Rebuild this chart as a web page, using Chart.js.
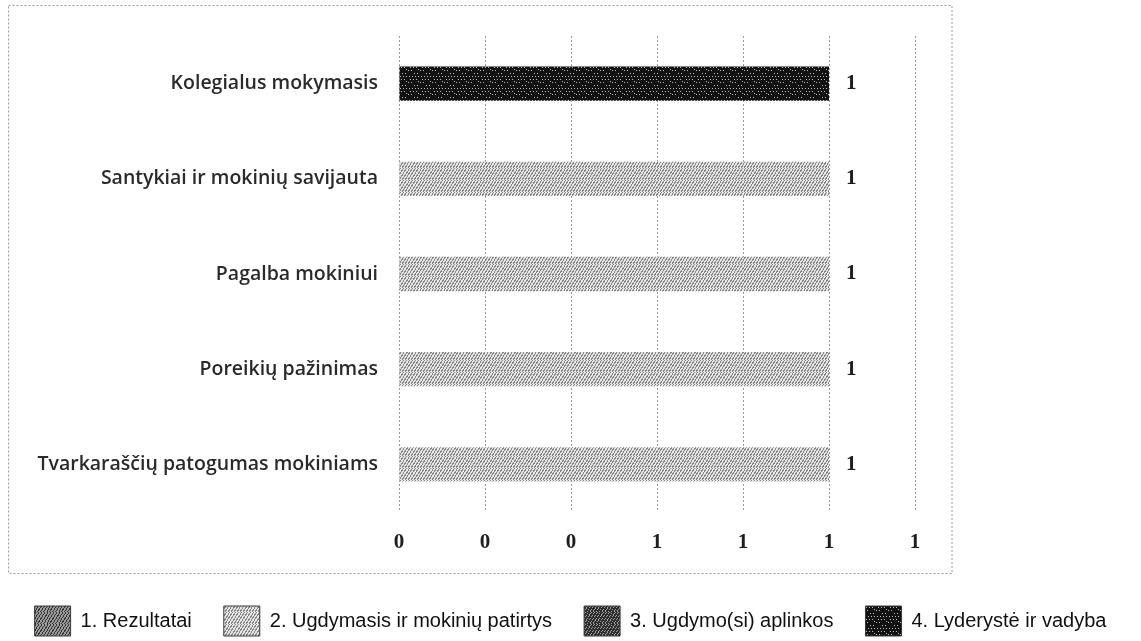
<!DOCTYPE html>
<html>
<head>
<meta charset="utf-8">
<script src="https://cdn.jsdelivr.net/npm/chart.js@4.4.1/dist/chart.umd.min.js"></script>
<style>
  html, body { margin: 0; padding: 0; background: #fff; }
  #wrap { width: 1141px; height: 641px; position: relative; }
</style>
</head>
<body>
<div id="wrap"><canvas id="c" width="1141" height="641"></canvas></div>
<script>
// ---- data ----
const categories = [
  "Kolegialus mokymasis",
  "Santykiai ir mokinių savijauta",
  "Pagalba mokiniui",
  "Poreikių pažinimas",
  "Tvarkaraščių patogumas mokiniams"
];
const seriesNames = [
  "1. Rezultatai",
  "2. Ugdymasis ir mokinių patirtys",
  "3. Ugdymo(si) aplinkos",
  "4. Lyderystė ir vadyba"
];
const rezultatai = [null, null, null, null, null];
const ugdymasis = [null, 1, 1, 1, 1];
const aplinkos = [null, null, null, null, null];
const lyderyste = [1, null, null, null, null];
const xTicks = [0, 0.2, 0.4, 0.6, 0.8, 1, 1.2];

// ---- deterministic stipple patterns ----
function makePattern(base, dot, density, seed) {
  const c = document.createElement('canvas');
  c.width = 12; c.height = 12;
  const g = c.getContext('2d');
  g.fillStyle = base; g.fillRect(0, 0, 12, 12);
  g.fillStyle = dot;
  for (let y = 0; y < 12; y++) {
    for (let x = 0; x < 12; x++) {
      const h = ((x * 31 + y * 17 + seed) * 2654435761 >>> 0) % 100;
      if (h < density) g.fillRect(x, y, 1, 1);
    }
  }
  return g.createPattern(c, 'repeat');
}
const ctx = document.getElementById('c').getContext('2d');
const pat1 = makePattern('#9a9a9a', '#333333', 35, 3);
const pat2 = makePattern('#e6e6e6', '#858585', 42, 7);
const pat3 = makePattern('#2e2e2e', '#a0a0a0', 25, 11);
const pat4 = makePattern('#121212', '#bdbdbd', 9, 5);

const serifFont = "'Liberation Serif', 'DejaVu Serif', serif";

// ---- plugins ----
const framePlugin = {
  id: 'frame',
  beforeDraw(chart) {
    const c = chart.ctx, a = chart.chartArea;
    c.save();
    c.strokeStyle = '#9a9a9a';
    c.lineWidth = 1;
    c.setLineDash([2, 2]);
    const bottom = Math.round(chart.legend.top) - 0.5;
    c.strokeRect(8.5, 5.5, (a.right + 37) - 8.5, bottom - 5.5);
    c.restore();
  }
};
const valueLabels = {
  id: 'valueLabels',
  afterDatasetsDraw(chart) {
    const c = chart.ctx;
    c.save();
    c.font = "bold 21px " + serifFont;
    c.fillStyle = '#1e1e1e';
    c.textAlign = 'left';
    c.textBaseline = 'middle';
    chart.data.datasets.forEach((ds, di) => {
      const meta = chart.getDatasetMeta(di);
      meta.data.forEach((bar, i) => {
        const v = ds.data[i];
        if (v === null || v === undefined) return;
        c.fillText(String(v), bar.x + 17, bar.y);
      });
    });
    c.restore();
  }
};

new Chart(ctx, {
  type: 'bar',
  data: {
    labels: categories,
    datasets: [
      { label: seriesNames[0], data: rezultatai, backgroundColor: pat1 },
      { label: seriesNames[1], data: ugdymasis, backgroundColor: pat2 },
      { label: seriesNames[2], data: aplinkos, backgroundColor: pat3 },
      { label: seriesNames[3], data: lyderyste, backgroundColor: pat4 }
    ]
  },
  options: {
    indexAxis: 'y',
    responsive: false,
    animation: false,
    layout: { padding: { top: 36, bottom: -5 } },
    datasets: { bar: { barPercentage: 0.36, categoryPercentage: 1, borderWidth: 0 } },
    scales: {
      x: {
        stacked: true,
        min: 0, max: 1.2,
        afterBuildTicks(scale) { scale.ticks = xTicks.map(v => ({ value: v })); },
        afterFit(scale) { scale.height = 62; },
        grid: { color: '#9a9a9a', lineWidth: 1, tickLength: 0, drawTicks: false },
        border: { display: false, dash: [2, 2] },
        ticks: {
          padding: 18,
          color: '#1e1e1e',
          font: { family: serifFont, size: 21, weight: 'bold' },
          callback: (v) => String(Math.round(v))
        }
      },
      y: {
        stacked: true,
        grid: { display: false, drawTicks: false },
        border: { display: false },
        afterFit(scale) { scale.width = 399; },
        ticks: {
          padding: 21,
          color: '#2a2a2a',
          font: { family: "'Open Sans', 'Noto Sans', sans-serif", size: 19.5, weight: 600 }
        }
      },
      y2: {
        position: 'right',
        display: true,
        grid: { display: false, drawTicks: false },
        border: { display: false },
        ticks: { display: false },
        afterFit(scale) { scale.width = 226; }
      }
    },
    plugins: {
      tooltip: { enabled: false },
      legend: {
        position: 'bottom',
        labels: {
          boxWidth: 36,
          boxHeight: 30,
          padding: 32,
          color: '#111',
          font: { family: "'Liberation Sans', Arial, sans-serif", size: 20 },
          generateLabels(chart) {
            return chart.data.datasets.map((ds, i) => ({
              text: ds.label,
              fillStyle: ds.backgroundColor,
              strokeStyle: '#3a3a3a',
              lineWidth: 1,
              hidden: false,
              datasetIndex: i,
              fontColor: '#111'
            }));
          }
        }
      }
    }
  },
  plugins: [framePlugin, valueLabels]
});
</script>
</body>
</html>
